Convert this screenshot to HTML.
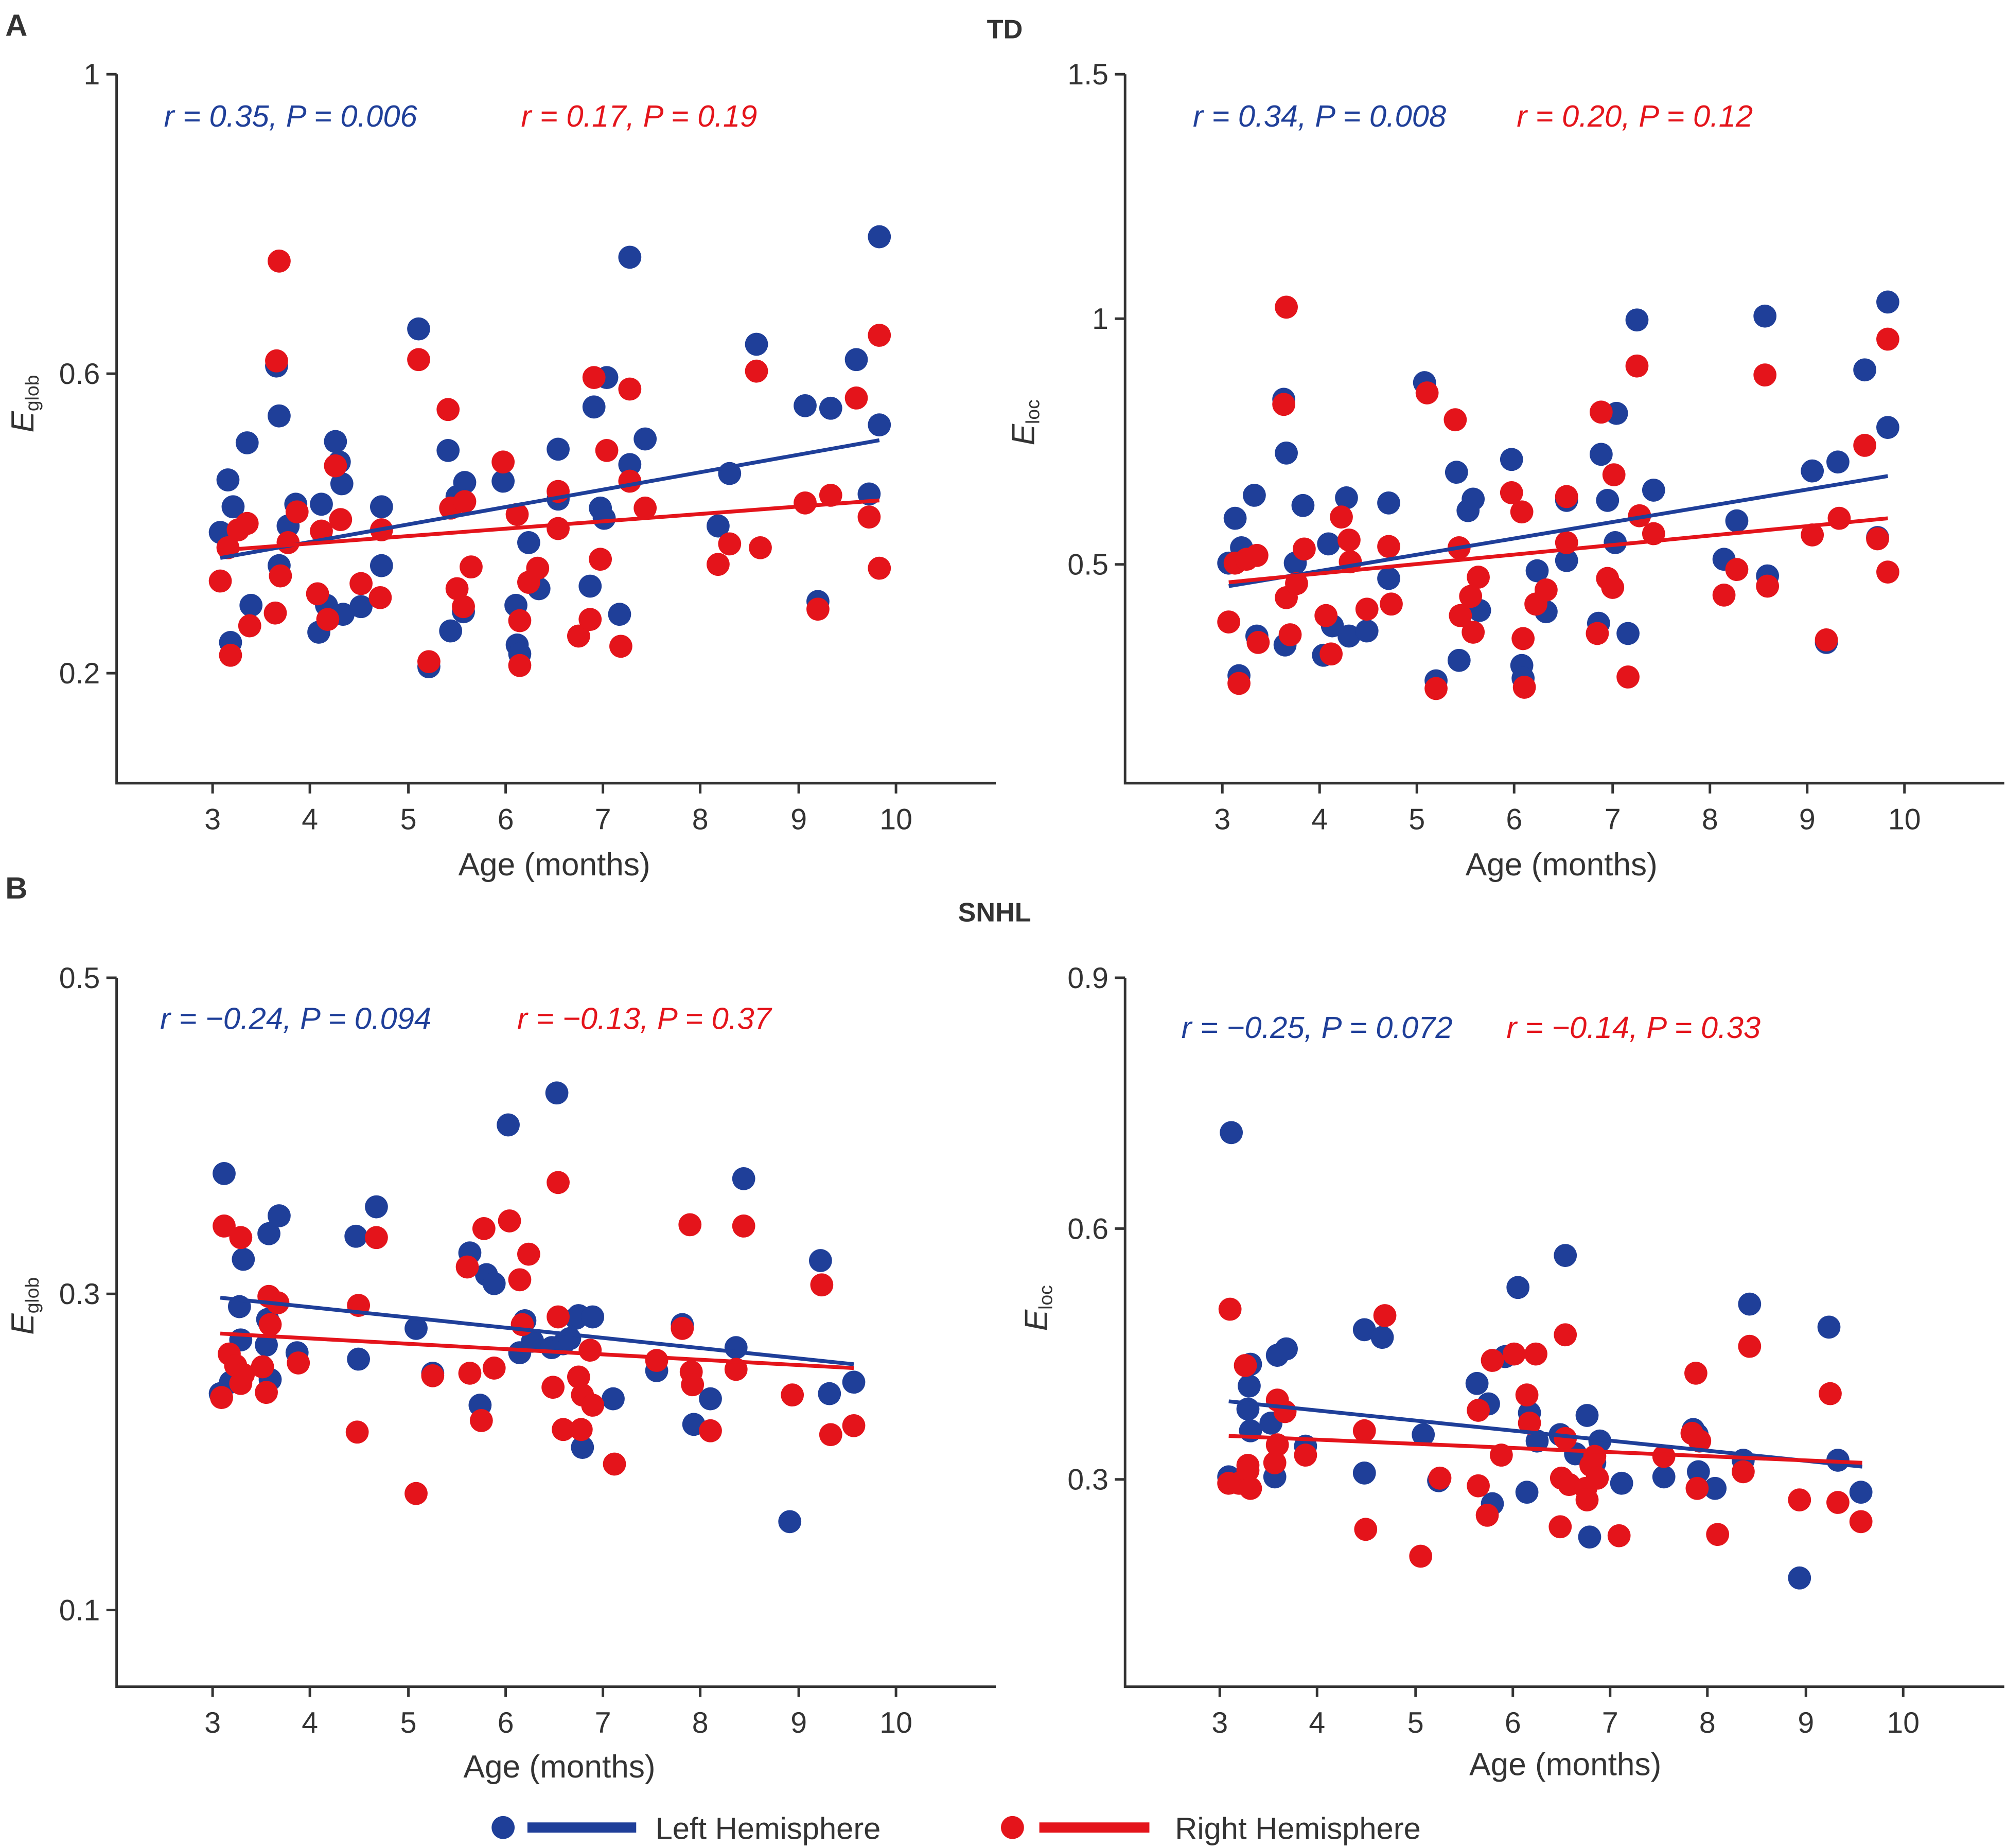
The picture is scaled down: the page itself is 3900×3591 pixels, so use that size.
<!DOCTYPE html>
<html><head><meta charset="utf-8"><style>
html,body{margin:0;padding:0;background:#fff}
svg{display:block}
text{font-family:"Liberation Sans",Arial,sans-serif;fill:#333}
.b{fill:#1f3f99}.r{fill:#e4141b}
.ax{stroke:#333;stroke-width:2;fill:none}
.tk{font-size:23px}
.lab{font-size:25px}
.leg{font-size:24px}
.ann{font-size:24px;font-style:italic}
</style></head><body>
<svg width="3900" height="3591" viewBox="0 0 1568 1444" xmlns="http://www.w3.org/2000/svg">
<rect width="1568" height="1444" fill="#fff"/>
<text x="4" y="28" font-size="24" font-weight="bold" fill="#000">A</text>
<text x="785" y="30" font-size="21" font-weight="bold" text-anchor="middle" fill="#000">TD</text>
<text x="4" y="702" font-size="24" font-weight="bold" fill="#000">B</text>
<text x="777" y="720" font-size="21" font-weight="bold" text-anchor="middle" fill="#000">SNHL</text>

<!-- TL -->
<path class="ax" d="M91,58 V612 H778 M83,58 H91 M83,292 H91 M83,526 H91 M166,612 v8 M242,612 v8 M319,612 v8 M395,612 v8 M471,612 v8 M547,612 v8 M624,612 v8 M700,612 v8"/>
<g class="tk" text-anchor="end"><text x="78" y="66">1</text><text x="78" y="300">0.6</text><text x="78" y="534">0.2</text></g>
<g class="tk" text-anchor="middle"><text x="166" y="648">3</text><text x="242" y="648">4</text><text x="319" y="648">5</text><text x="395" y="648">6</text><text x="471" y="648">7</text><text x="547" y="648">8</text><text x="624" y="648">9</text><text x="700" y="648">10</text></g>
<text class="lab" x="433" y="684" text-anchor="middle">Age (months)</text>
<text class="lab" transform="translate(26,338) rotate(-90)"><tspan font-style="italic">E</tspan><tspan font-size="15" dy="4">glob</tspan></text>
<text class="ann" x="128" y="99" style="fill:#1f3f99">r = 0.35, P = 0.006</text>
<text class="ann" x="407" y="99" style="fill:#e4141b">r = 0.17, P = 0.19</text>
<g class="b">
<circle cx="172" cy="416" r="9"/><circle cx="178" cy="375" r="9"/><circle cx="182" cy="396" r="9"/><circle cx="180" cy="502" r="9"/><circle cx="193" cy="346" r="9"/><circle cx="196" cy="473" r="9"/><circle cx="216" cy="286" r="9"/><circle cx="218" cy="325" r="9"/><circle cx="218" cy="442" r="9"/><circle cx="225" cy="411" r="9"/><circle cx="231" cy="394" r="9"/><circle cx="249" cy="494" r="9"/><circle cx="251" cy="394" r="9"/><circle cx="255" cy="473" r="9"/><circle cx="262" cy="345" r="9"/><circle cx="265" cy="361" r="9"/><circle cx="267" cy="378" r="9"/><circle cx="268" cy="480" r="9"/><circle cx="282" cy="474" r="9"/><circle cx="298" cy="396" r="9"/><circle cx="298" cy="442" r="9"/><circle cx="327" cy="257" r="9"/><circle cx="335" cy="521" r="9"/><circle cx="350" cy="352" r="9"/><circle cx="352" cy="493" r="9"/><circle cx="357" cy="388" r="9"/><circle cx="363" cy="377" r="9"/><circle cx="362" cy="478" r="9"/><circle cx="393" cy="376" r="9"/><circle cx="403" cy="473" r="9"/><circle cx="404" cy="504" r="9"/><circle cx="406" cy="511" r="9"/><circle cx="413" cy="424" r="9"/><circle cx="421" cy="460" r="9"/><circle cx="436" cy="351" r="9"/><circle cx="436" cy="390" r="9"/><circle cx="461" cy="458" r="9"/><circle cx="464" cy="318" r="9"/><circle cx="469" cy="397" r="9"/><circle cx="474" cy="295" r="9"/><circle cx="472" cy="405" r="9"/><circle cx="484" cy="480" r="9"/><circle cx="492" cy="201" r="9"/><circle cx="492" cy="363" r="9"/><circle cx="504" cy="343" r="9"/><circle cx="561" cy="411" r="9"/><circle cx="570" cy="370" r="9"/><circle cx="591" cy="269" r="9"/><circle cx="629" cy="317" r="9"/><circle cx="649" cy="319" r="9"/><circle cx="639" cy="470" r="9"/><circle cx="669" cy="281" r="9"/><circle cx="679" cy="386" r="9"/><circle cx="687" cy="185" r="9"/><circle cx="687" cy="332" r="9"/>
</g>
<g class="r">
<circle cx="172" cy="454" r="9"/><circle cx="178" cy="428" r="9"/><circle cx="180" cy="512" r="9"/><circle cx="186" cy="414" r="9"/><circle cx="193" cy="409" r="9"/><circle cx="195" cy="489" r="9"/><circle cx="215" cy="479" r="9"/><circle cx="218" cy="204" r="9"/><circle cx="216" cy="282" r="9"/><circle cx="219" cy="450" r="9"/><circle cx="225" cy="424" r="9"/><circle cx="232" cy="400" r="9"/><circle cx="248" cy="464" r="9"/><circle cx="251" cy="415" r="9"/><circle cx="256" cy="484" r="9"/><circle cx="262" cy="364" r="9"/><circle cx="266" cy="406" r="9"/><circle cx="282" cy="456" r="9"/><circle cx="297" cy="467" r="9"/><circle cx="298" cy="414" r="9"/><circle cx="327" cy="281" r="9"/><circle cx="335" cy="517" r="9"/><circle cx="350" cy="320" r="9"/><circle cx="352" cy="397" r="9"/><circle cx="357" cy="460" r="9"/><circle cx="363" cy="392" r="9"/><circle cx="362" cy="474" r="9"/><circle cx="368" cy="443" r="9"/><circle cx="393" cy="361" r="9"/><circle cx="404" cy="402" r="9"/><circle cx="406" cy="485" r="9"/><circle cx="406" cy="520" r="9"/><circle cx="413" cy="455" r="9"/><circle cx="420" cy="444" r="9"/><circle cx="436" cy="384" r="9"/><circle cx="436" cy="413" r="9"/><circle cx="452" cy="497" r="9"/><circle cx="461" cy="484" r="9"/><circle cx="464" cy="295" r="9"/><circle cx="469" cy="437" r="9"/><circle cx="474" cy="352" r="9"/><circle cx="485" cy="505" r="9"/><circle cx="492" cy="304" r="9"/><circle cx="492" cy="376" r="9"/><circle cx="504" cy="397" r="9"/><circle cx="561" cy="441" r="9"/><circle cx="570" cy="425" r="9"/><circle cx="591" cy="290" r="9"/><circle cx="594" cy="428" r="9"/><circle cx="629" cy="393" r="9"/><circle cx="639" cy="476" r="9"/><circle cx="649" cy="387" r="9"/><circle cx="669" cy="311" r="9"/><circle cx="679" cy="404" r="9"/><circle cx="687" cy="262" r="9"/><circle cx="687" cy="444" r="9"/>
</g>
<line x1="172" y1="436" x2="687" y2="344" stroke="#1f3f99" stroke-width="3"/>
<line x1="172" y1="430" x2="687" y2="391" stroke="#e4141b" stroke-width="3"/>

<!-- TR -->
<path class="ax" d="M879,58 V612 H1566 M871,58 H879 M871,249 H879 M871,441 H879 M955,612 v8 M1031,612 v8 M1107,612 v8 M1183,612 v8 M1260,612 v8 M1336,612 v8 M1412,612 v8 M1488,612 v8"/>
<g class="tk" text-anchor="end"><text x="866" y="66">1.5</text><text x="866" y="257">1</text><text x="866" y="449">0.5</text></g>
<g class="tk" text-anchor="middle"><text x="955" y="648">3</text><text x="1031" y="648">4</text><text x="1107" y="648">5</text><text x="1183" y="648">6</text><text x="1260" y="648">7</text><text x="1336" y="648">8</text><text x="1412" y="648">9</text><text x="1488" y="648">10</text></g>
<text class="lab" x="1220" y="684" text-anchor="middle">Age (months)</text>
<text class="lab" transform="translate(808,348) rotate(-90)"><tspan font-style="italic">E</tspan><tspan font-size="15" dy="4">loc</tspan></text>
<text class="ann" x="932" y="99" style="fill:#1f3f99">r = 0.34, P = 0.008</text>
<text class="ann" x="1185" y="99" style="fill:#e4141b">r = 0.20, P = 0.12</text>
<g class="b">
<circle cx="960" cy="440" r="9"/><circle cx="965" cy="405" r="9"/><circle cx="968" cy="528" r="9"/><circle cx="970" cy="428" r="9"/><circle cx="980" cy="387" r="9"/><circle cx="982" cy="497" r="9"/><circle cx="1003" cy="312" r="9"/><circle cx="1005" cy="354" r="9"/><circle cx="1004" cy="504" r="9"/><circle cx="1012" cy="440" r="9"/><circle cx="1018" cy="395" r="9"/><circle cx="1034" cy="512" r="9"/><circle cx="1038" cy="425" r="9"/><circle cx="1041" cy="489" r="9"/><circle cx="1052" cy="389" r="9"/><circle cx="1054" cy="497" r="9"/><circle cx="1068" cy="493" r="9"/><circle cx="1085" cy="393" r="9"/><circle cx="1085" cy="452" r="9"/><circle cx="1113" cy="299" r="9"/><circle cx="1122" cy="532" r="9"/><circle cx="1138" cy="369" r="9"/><circle cx="1140" cy="516" r="9"/><circle cx="1147" cy="399" r="9"/><circle cx="1151" cy="390" r="9"/><circle cx="1156" cy="477" r="9"/><circle cx="1181" cy="359" r="9"/><circle cx="1189" cy="520" r="9"/><circle cx="1190" cy="530" r="9"/><circle cx="1201" cy="446" r="9"/><circle cx="1208" cy="478" r="9"/><circle cx="1224" cy="438" r="9"/><circle cx="1224" cy="391" r="9"/><circle cx="1249" cy="487" r="9"/><circle cx="1251" cy="355" r="9"/><circle cx="1256" cy="391" r="9"/><circle cx="1262" cy="424" r="9"/><circle cx="1263" cy="323" r="9"/><circle cx="1272" cy="495" r="9"/><circle cx="1279" cy="250" r="9"/><circle cx="1292" cy="383" r="9"/><circle cx="1347" cy="437" r="9"/><circle cx="1357" cy="407" r="9"/><circle cx="1379" cy="247" r="9"/><circle cx="1381" cy="450" r="9"/><circle cx="1416" cy="368" r="9"/><circle cx="1427" cy="502" r="9"/><circle cx="1436" cy="361" r="9"/><circle cx="1457" cy="289" r="9"/><circle cx="1467" cy="420" r="9"/><circle cx="1475" cy="236" r="9"/><circle cx="1475" cy="334" r="9"/>
</g>
<g class="r">
<circle cx="960" cy="486" r="9"/><circle cx="965" cy="440" r="9"/><circle cx="968" cy="534" r="9"/><circle cx="974" cy="437" r="9"/><circle cx="982" cy="434" r="9"/><circle cx="983" cy="502" r="9"/><circle cx="1005" cy="240" r="9"/><circle cx="1003" cy="316" r="9"/><circle cx="1005" cy="467" r="9"/><circle cx="1008" cy="496" r="9"/><circle cx="1013" cy="456" r="9"/><circle cx="1019" cy="429" r="9"/><circle cx="1036" cy="481" r="9"/><circle cx="1040" cy="511" r="9"/><circle cx="1048" cy="404" r="9"/><circle cx="1054" cy="422" r="9"/><circle cx="1055" cy="439" r="9"/><circle cx="1068" cy="476" r="9"/><circle cx="1085" cy="427" r="9"/><circle cx="1087" cy="472" r="9"/><circle cx="1115" cy="307" r="9"/><circle cx="1122" cy="538" r="9"/><circle cx="1137" cy="328" r="9"/><circle cx="1140" cy="428" r="9"/><circle cx="1141" cy="481" r="9"/><circle cx="1149" cy="466" r="9"/><circle cx="1151" cy="494" r="9"/><circle cx="1155" cy="451" r="9"/><circle cx="1181" cy="385" r="9"/><circle cx="1189" cy="400" r="9"/><circle cx="1190" cy="499" r="9"/><circle cx="1191" cy="537" r="9"/><circle cx="1200" cy="472" r="9"/><circle cx="1208" cy="461" r="9"/><circle cx="1224" cy="424" r="9"/><circle cx="1224" cy="388" r="9"/><circle cx="1248" cy="495" r="9"/><circle cx="1251" cy="322" r="9"/><circle cx="1256" cy="452" r="9"/><circle cx="1260" cy="459" r="9"/><circle cx="1261" cy="371" r="9"/><circle cx="1272" cy="529" r="9"/><circle cx="1279" cy="286" r="9"/><circle cx="1281" cy="403" r="9"/><circle cx="1292" cy="417" r="9"/><circle cx="1347" cy="465" r="9"/><circle cx="1357" cy="445" r="9"/><circle cx="1379" cy="293" r="9"/><circle cx="1381" cy="458" r="9"/><circle cx="1416" cy="418" r="9"/><circle cx="1427" cy="500" r="9"/><circle cx="1437" cy="405" r="9"/><circle cx="1457" cy="348" r="9"/><circle cx="1467" cy="421" r="9"/><circle cx="1475" cy="265" r="9"/><circle cx="1475" cy="447" r="9"/>
</g>
<line x1="960" y1="458" x2="1475" y2="372" stroke="#1f3f99" stroke-width="3"/>
<line x1="960" y1="455" x2="1475" y2="405" stroke="#e4141b" stroke-width="3"/>

<!-- BL -->
<path class="ax" d="M91,764 V1318 H778 M83,764 H91 M83,1011 H91 M83,1258 H91 M166,1318 v8 M242,1318 v8 M319,1318 v8 M395,1318 v8 M471,1318 v8 M547,1318 v8 M624,1318 v8 M700,1318 v8"/>
<g class="tk" text-anchor="end"><text x="78" y="772">0.5</text><text x="78" y="1019">0.3</text><text x="78" y="1266">0.1</text></g>
<g class="tk" text-anchor="middle"><text x="166" y="1354">3</text><text x="242" y="1354">4</text><text x="319" y="1354">5</text><text x="395" y="1354">6</text><text x="471" y="1354">7</text><text x="547" y="1354">8</text><text x="624" y="1354">9</text><text x="700" y="1354">10</text></g>
<text class="lab" x="437" y="1389" text-anchor="middle">Age (months)</text>
<text class="lab" transform="translate(26,1043) rotate(-90)"><tspan font-style="italic">E</tspan><tspan font-size="15" dy="4">glob</tspan></text>
<text class="ann" x="125" y="804" style="fill:#1f3f99">r = −0.24, P = 0.094</text>
<text class="ann" x="404" y="804" style="fill:#e4141b">r = −0.13, P = 0.37</text>
<g class="b">
<circle cx="172" cy="1089" r="9"/><circle cx="175" cy="917" r="9"/><circle cx="180" cy="1080" r="9"/><circle cx="187" cy="1021" r="9"/><circle cx="188" cy="1047" r="9"/><circle cx="190" cy="984" r="9"/><circle cx="208" cy="1051" r="9"/><circle cx="209" cy="1031" r="9"/><circle cx="210" cy="964" r="9"/><circle cx="211" cy="1078" r="9"/><circle cx="218" cy="950" r="9"/><circle cx="232" cy="1057" r="9"/><circle cx="278" cy="966" r="9"/><circle cx="280" cy="1062" r="9"/><circle cx="294" cy="943" r="9"/><circle cx="325" cy="1038" r="9"/><circle cx="338" cy="1073" r="9"/><circle cx="367" cy="979" r="9"/><circle cx="375" cy="1098" r="9"/><circle cx="380" cy="996" r="9"/><circle cx="386" cy="1003" r="9"/><circle cx="397" cy="879" r="9"/><circle cx="406" cy="1057" r="9"/><circle cx="410" cy="1032" r="9"/><circle cx="416" cy="1048" r="9"/><circle cx="435" cy="854" r="9"/><circle cx="431" cy="1053" r="9"/><circle cx="440" cy="1050" r="9"/><circle cx="445" cy="1046" r="9"/><circle cx="450" cy="1030" r="9"/><circle cx="452" cy="1028" r="9"/><circle cx="455" cy="1131" r="9"/><circle cx="463" cy="1029" r="9"/><circle cx="479" cy="1093" r="9"/><circle cx="513" cy="1071" r="9"/><circle cx="533" cy="1035" r="9"/><circle cx="542" cy="1113" r="9"/><circle cx="555" cy="1093" r="9"/><circle cx="575" cy="1053" r="9"/><circle cx="581" cy="921" r="9"/><circle cx="617" cy="1189" r="9"/><circle cx="641" cy="985" r="9"/><circle cx="648" cy="1089" r="9"/><circle cx="667" cy="1080" r="9"/>
</g>
<g class="r">
<circle cx="173" cy="1092" r="9"/><circle cx="175" cy="958" r="9"/><circle cx="179" cy="1058" r="9"/><circle cx="184" cy="1067" r="9"/><circle cx="188" cy="1081" r="9"/><circle cx="188" cy="967" r="9"/><circle cx="190" cy="1074" r="9"/><circle cx="205" cy="1068" r="9"/><circle cx="208" cy="1088" r="9"/><circle cx="210" cy="1013" r="9"/><circle cx="211" cy="1035" r="9"/><circle cx="217" cy="1018" r="9"/><circle cx="233" cy="1065" r="9"/><circle cx="279" cy="1119" r="9"/><circle cx="280" cy="1020" r="9"/><circle cx="294" cy="967" r="9"/><circle cx="325" cy="1167" r="9"/><circle cx="338" cy="1075" r="9"/><circle cx="365" cy="990" r="9"/><circle cx="367" cy="1073" r="9"/><circle cx="376" cy="1110" r="9"/><circle cx="378" cy="960" r="9"/><circle cx="386" cy="1069" r="9"/><circle cx="398" cy="954" r="9"/><circle cx="406" cy="1000" r="9"/><circle cx="413" cy="980" r="9"/><circle cx="408" cy="1035" r="9"/><circle cx="432" cy="1084" r="9"/><circle cx="436" cy="924" r="9"/><circle cx="436" cy="1029" r="9"/><circle cx="440" cy="1117" r="9"/><circle cx="452" cy="1076" r="9"/><circle cx="454" cy="1117" r="9"/><circle cx="455" cy="1090" r="9"/><circle cx="461" cy="1055" r="9"/><circle cx="463" cy="1098" r="9"/><circle cx="480" cy="1144" r="9"/><circle cx="513" cy="1063" r="9"/><circle cx="533" cy="1038" r="9"/><circle cx="539" cy="957" r="9"/><circle cx="540" cy="1072" r="9"/><circle cx="541" cy="1082" r="9"/><circle cx="555" cy="1118" r="9"/><circle cx="575" cy="1070" r="9"/><circle cx="581" cy="958" r="9"/><circle cx="619" cy="1090" r="9"/><circle cx="642" cy="1004" r="9"/><circle cx="649" cy="1121" r="9"/><circle cx="667" cy="1114" r="9"/>
</g>
<line x1="172" y1="1014" x2="667" y2="1066" stroke="#1f3f99" stroke-width="3"/>
<line x1="172" y1="1042" x2="667" y2="1069" stroke="#e4141b" stroke-width="3"/>

<!-- BR -->
<path class="ax" d="M879,764 V1318 H1566 M871,764 H879 M871,960 H879 M871,1156 H879 M953,1318 v8 M1029,1318 v8 M1106,1318 v8 M1182,1318 v8 M1258,1318 v8 M1334,1318 v8 M1411,1318 v8 M1487,1318 v8"/>
<g class="tk" text-anchor="end"><text x="866" y="772">0.9</text><text x="866" y="968">0.6</text><text x="866" y="1164">0.3</text></g>
<g class="tk" text-anchor="middle"><text x="953" y="1354">3</text><text x="1029" y="1354">4</text><text x="1106" y="1354">5</text><text x="1182" y="1354">6</text><text x="1258" y="1354">7</text><text x="1334" y="1354">8</text><text x="1411" y="1354">9</text><text x="1487" y="1354">10</text></g>
<text class="lab" x="1223" y="1387" text-anchor="middle">Age (months)</text>
<text class="lab" transform="translate(818,1040) rotate(-90)"><tspan font-style="italic">E</tspan><tspan font-size="15" dy="4">loc</tspan></text>
<text class="ann" x="923" y="811" style="fill:#1f3f99">r = −0.25, P = 0.072</text>
<text class="ann" x="1177" y="811" style="fill:#e4141b">r = −0.14, P = 0.33</text>
<g class="b">
<circle cx="962" cy="885" r="9"/><circle cx="960" cy="1154" r="9"/><circle cx="970" cy="1157" r="9"/><circle cx="975" cy="1101" r="9"/><circle cx="976" cy="1083" r="9"/><circle cx="977" cy="1118" r="9"/><circle cx="977" cy="1066" r="9"/><circle cx="993" cy="1112" r="9"/><circle cx="996" cy="1154" r="9"/><circle cx="998" cy="1059" r="9"/><circle cx="1005" cy="1054" r="9"/><circle cx="1020" cy="1130" r="9"/><circle cx="1066" cy="1039" r="9"/><circle cx="1066" cy="1151" r="9"/><circle cx="1080" cy="1045" r="9"/><circle cx="1112" cy="1121" r="9"/><circle cx="1124" cy="1157" r="9"/><circle cx="1154" cy="1081" r="9"/><circle cx="1163" cy="1097" r="9"/><circle cx="1166" cy="1175" r="9"/><circle cx="1176" cy="1060" r="9"/><circle cx="1186" cy="1006" r="9"/><circle cx="1193" cy="1166" r="9"/><circle cx="1195" cy="1104" r="9"/><circle cx="1201" cy="1126" r="9"/><circle cx="1219" cy="1121" r="9"/><circle cx="1223" cy="981" r="9"/><circle cx="1231" cy="1136" r="9"/><circle cx="1240" cy="1106" r="9"/><circle cx="1242" cy="1201" r="9"/><circle cx="1246" cy="1143" r="9"/><circle cx="1250" cy="1126" r="9"/><circle cx="1267" cy="1159" r="9"/><circle cx="1300" cy="1154" r="9"/><circle cx="1323" cy="1117" r="9"/><circle cx="1326" cy="1121" r="9"/><circle cx="1327" cy="1150" r="9"/><circle cx="1340" cy="1163" r="9"/><circle cx="1367" cy="1019" r="9"/><circle cx="1362" cy="1141" r="9"/><circle cx="1406" cy="1233" r="9"/><circle cx="1429" cy="1037" r="9"/><circle cx="1436" cy="1141" r="9"/><circle cx="1454" cy="1166" r="9"/>
</g>
<g class="r">
<circle cx="961" cy="1023" r="9"/><circle cx="960" cy="1159" r="9"/><circle cx="968" cy="1159" r="9"/><circle cx="973" cy="1067" r="9"/><circle cx="975" cy="1145" r="9"/><circle cx="975" cy="1149" r="9"/><circle cx="977" cy="1163" r="9"/><circle cx="996" cy="1143" r="9"/><circle cx="998" cy="1094" r="9"/><circle cx="998" cy="1129" r="9"/><circle cx="1004" cy="1103" r="9"/><circle cx="1020" cy="1137" r="9"/><circle cx="1066" cy="1118" r="9"/><circle cx="1067" cy="1195" r="9"/><circle cx="1082" cy="1028" r="9"/><circle cx="1110" cy="1216" r="9"/><circle cx="1125" cy="1155" r="9"/><circle cx="1155" cy="1102" r="9"/><circle cx="1155" cy="1161" r="9"/><circle cx="1162" cy="1184" r="9"/><circle cx="1166" cy="1063" r="9"/><circle cx="1173" cy="1137" r="9"/><circle cx="1183" cy="1058" r="9"/><circle cx="1193" cy="1090" r="9"/><circle cx="1195" cy="1112" r="9"/><circle cx="1200" cy="1058" r="9"/><circle cx="1219" cy="1193" r="9"/><circle cx="1223" cy="1043" r="9"/><circle cx="1220" cy="1155" r="9"/><circle cx="1223" cy="1124" r="9"/><circle cx="1226" cy="1160" r="9"/><circle cx="1239" cy="1163" r="9"/><circle cx="1240" cy="1172" r="9"/><circle cx="1243" cy="1145" r="9"/><circle cx="1246" cy="1138" r="9"/><circle cx="1248" cy="1155" r="9"/><circle cx="1265" cy="1200" r="9"/><circle cx="1300" cy="1138" r="9"/><circle cx="1322" cy="1120" r="9"/><circle cx="1325" cy="1073" r="9"/><circle cx="1326" cy="1163" r="9"/><circle cx="1328" cy="1126" r="9"/><circle cx="1342" cy="1199" r="9"/><circle cx="1367" cy="1052" r="9"/><circle cx="1362" cy="1150" r="9"/><circle cx="1406" cy="1172" r="9"/><circle cx="1430" cy="1089" r="9"/><circle cx="1436" cy="1174" r="9"/><circle cx="1454" cy="1189" r="9"/>
</g>
<line x1="960" y1="1095" x2="1455" y2="1146" stroke="#1f3f99" stroke-width="3"/>
<line x1="960" y1="1122" x2="1455" y2="1143" stroke="#e4141b" stroke-width="3"/>

<!-- Legend -->
<circle cx="393" cy="1428" r="9" fill="#1f3f99"/>
<rect x="412" y="1424" width="85" height="8" fill="#1f3f99"/>
<text class="leg" x="512" y="1437">Left Hemisphere</text>
<circle cx="791" cy="1428" r="9" fill="#e4141b"/>
<rect x="812" y="1424" width="86" height="8" fill="#e4141b"/>
<text class="leg" x="918" y="1437">Right Hemisphere</text>
</svg>
</body></html>
